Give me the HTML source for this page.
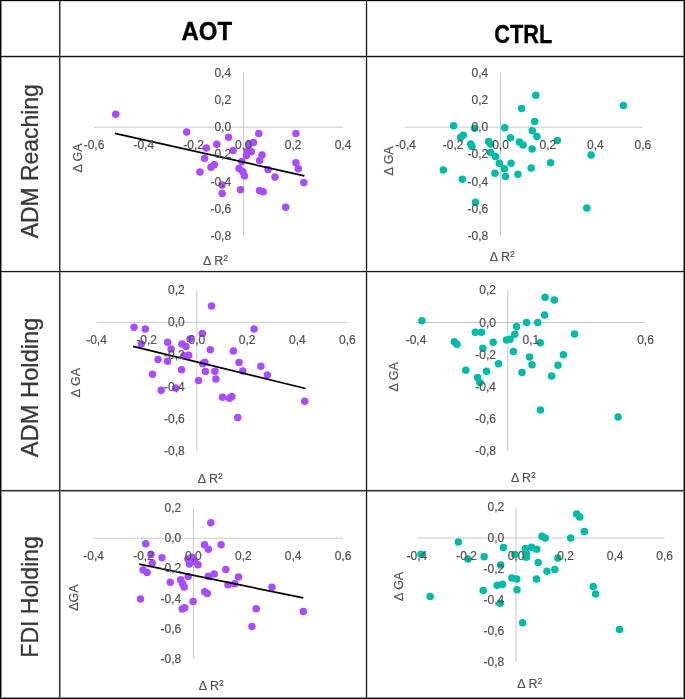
<!DOCTYPE html>
<html><head><meta charset="utf-8"><style>
html,body{margin:0;padding:0;background:#fff;width:685px;height:699px;overflow:hidden}
svg{display:block;will-change:transform}
text{font-family:"Liberation Sans",sans-serif}
.t{font-size:12px;fill:#505050;stroke:#505050;stroke-width:0.2px}
.a{font-size:12.5px;fill:#505050;stroke:#505050;stroke-width:0.15px}
.sup{font-size:8.5px}
.h{font-size:25px;font-weight:bold;fill:#000;stroke:#000;stroke-width:0.35px}
.r{font-size:23.5px;fill:#383838;stroke:#383838;stroke-width:0.3px}
</style></head><body>
<svg width="685" height="699" viewBox="0 0 685 699">
<rect width="685" height="699" fill="#fff"/>
<g shape-rendering="crispEdges">
<rect x="58" y="0" width="1" height="699" fill="#f2f2f2"/>
<rect x="0" y="270" width="685" height="1" fill="#e8e8e8"/>
<rect x="0" y="489" width="685" height="1" fill="#e8e8e8"/>
<rect x="365" y="0" width="1" height="699" fill="#dcdcdc"/>
<rect x="0" y="1" width="685" height="1" fill="#d5d5d5"/>
<rect x="367" y="0" width="1" height="699" fill="#d0d0d0"/>
<rect x="0" y="55" width="685" height="1" fill="#d0d0d0"/>
<rect x="0" y="272" width="685" height="1" fill="#c8c8c8"/>
<rect x="0" y="57" width="685" height="1" fill="#c0c0c0"/>
<rect x="0" y="491" width="685" height="1" fill="#9a9a9a"/>
<rect x="60" y="0" width="1" height="699" fill="#999"/>
<rect x="0" y="697" width="685" height="1" fill="#999"/>
<rect x="1" y="0" width="1" height="699" fill="#909090"/>
<rect x="683" y="0" width="1" height="699" fill="#888"/>
<rect x="59" y="0" width="1" height="699" fill="#333"/>
<rect x="0" y="490" width="685" height="1" fill="#303030"/>
<rect x="0" y="271" width="685" height="1" fill="#1c1c1c"/>
<rect x="0" y="56" width="685" height="1" fill="#181818"/>
<rect x="366" y="0" width="1" height="699" fill="#161616"/>
<rect x="0" y="698" width="685" height="1" fill="#0a0a0a"/>
<rect x="684" y="0" width="1" height="699" fill="#080808"/>
<rect x="0" y="0" width="1" height="699" fill="#000"/>
<rect x="0" y="0" width="685" height="1" fill="#000"/>
</g>
<text transform="translate(206.8,39.8) scale(0.96,1.04)" text-anchor="middle" class="h">AOT</text>
<text transform="translate(523.2,42.7) scale(0.87,1.06)" text-anchor="middle" class="h">CTRL</text>
<text transform="translate(38.1,161.3) rotate(-90) scale(0.975,1)" text-anchor="middle" class="r">ADM Reaching</text>
<text transform="translate(38.1,387.4) rotate(-90) scale(1.01,1)" text-anchor="middle" class="r">ADM Holding</text>
<text transform="translate(38.0,596.9) rotate(-90) scale(0.98,1)" text-anchor="middle" class="r">FDI Holding</text>
<line x1="94.0" y1="127.2" x2="343.0" y2="127.2" stroke="#c8c8c8" stroke-width="1"/>
<line x1="243.4" y1="72.8" x2="243.4" y2="236.0" stroke="#c8c8c8" stroke-width="1"/>
<circle cx="115.7" cy="114.2" r="3.75" fill="#a94bff"/>
<circle cx="186.7" cy="132.1" r="3.75" fill="#a94bff"/>
<circle cx="228.5" cy="137.2" r="3.75" fill="#a94bff"/>
<circle cx="258.8" cy="133.6" r="3.75" fill="#a94bff"/>
<circle cx="216.8" cy="144.3" r="3.75" fill="#a94bff"/>
<circle cx="206.3" cy="148.0" r="3.75" fill="#a94bff"/>
<circle cx="233.1" cy="150.5" r="3.75" fill="#a94bff"/>
<circle cx="253.4" cy="142.4" r="3.75" fill="#a94bff"/>
<circle cx="248.8" cy="144.8" r="3.75" fill="#a94bff"/>
<circle cx="251.2" cy="151.8" r="3.75" fill="#a94bff"/>
<circle cx="247.2" cy="151.5" r="3.75" fill="#a94bff"/>
<circle cx="246.4" cy="155.6" r="3.75" fill="#a94bff"/>
<circle cx="241.9" cy="161.4" r="3.75" fill="#a94bff"/>
<circle cx="239.0" cy="168.5" r="3.75" fill="#a94bff"/>
<circle cx="242.9" cy="171.7" r="3.75" fill="#a94bff"/>
<circle cx="244.4" cy="175.9" r="3.75" fill="#a94bff"/>
<circle cx="204.5" cy="158.2" r="3.75" fill="#a94bff"/>
<circle cx="214.3" cy="164.7" r="3.75" fill="#a94bff"/>
<circle cx="211.0" cy="167.2" r="3.75" fill="#a94bff"/>
<circle cx="200.0" cy="172.0" r="3.75" fill="#a94bff"/>
<circle cx="262.0" cy="155.0" r="3.75" fill="#a94bff"/>
<circle cx="259.6" cy="160.6" r="3.75" fill="#a94bff"/>
<circle cx="268.0" cy="169.5" r="3.75" fill="#a94bff"/>
<circle cx="275.0" cy="176.9" r="3.75" fill="#a94bff"/>
<circle cx="295.9" cy="133.6" r="3.75" fill="#a94bff"/>
<circle cx="295.9" cy="162.8" r="3.75" fill="#a94bff"/>
<circle cx="298.3" cy="168.7" r="3.75" fill="#a94bff"/>
<circle cx="303.8" cy="182.4" r="3.75" fill="#a94bff"/>
<circle cx="285.7" cy="207.2" r="3.75" fill="#a94bff"/>
<circle cx="222.0" cy="184.9" r="3.75" fill="#a94bff"/>
<circle cx="222.2" cy="193.5" r="3.75" fill="#a94bff"/>
<circle cx="240.5" cy="189.8" r="3.75" fill="#a94bff"/>
<circle cx="259.5" cy="190.4" r="3.75" fill="#a94bff"/>
<circle cx="263.2" cy="191.7" r="3.75" fill="#a94bff"/>
<line x1="114.8" y1="133.4" x2="304.4" y2="175.8" stroke="#000" stroke-width="1.7"/>
<text x="94.0" y="148.8" text-anchor="middle" class="t">-0,6</text>
<text x="143.8" y="148.8" text-anchor="middle" class="t">-0,4</text>
<text x="193.6" y="148.8" text-anchor="middle" class="t">-0,2</text>
<text x="243.4" y="148.8" text-anchor="middle" class="t">0,0</text>
<text x="293.2" y="148.8" text-anchor="middle" class="t">0,2</text>
<text x="343.0" y="148.8" text-anchor="middle" class="t">0,4</text>
<text x="231.1" y="76.8" text-anchor="end" class="t">0,4</text>
<text x="231.1" y="104.0" text-anchor="end" class="t">0,2</text>
<text x="231.1" y="131.2" text-anchor="end" class="t">0,0</text>
<text x="231.1" y="158.4" text-anchor="end" class="t">-0,2</text>
<text x="231.1" y="185.6" text-anchor="end" class="t">-0,4</text>
<text x="231.1" y="212.8" text-anchor="end" class="t">-0,6</text>
<text x="231.1" y="240.0" text-anchor="end" class="t">-0,8</text>
<text transform="translate(81.8,158.0) rotate(-90)" text-anchor="middle" class="a">&#916; GA</text>
<text x="215.5" y="264.7" text-anchor="middle" class="a">&#916; R<tspan class="sup" dy="-4">2</tspan></text>
<line x1="405.6" y1="127.2" x2="642.8" y2="127.2" stroke="#c8c8c8" stroke-width="1"/>
<line x1="500.5" y1="72.8" x2="500.5" y2="236.0" stroke="#c8c8c8" stroke-width="1"/>
<circle cx="453.6" cy="125.7" r="3.75" fill="#00bca6"/>
<circle cx="474.6" cy="128.3" r="3.75" fill="#00bca6"/>
<circle cx="463.2" cy="135.3" r="3.75" fill="#00bca6"/>
<circle cx="460.6" cy="137.4" r="3.75" fill="#00bca6"/>
<circle cx="470.7" cy="144.1" r="3.75" fill="#00bca6"/>
<circle cx="472.0" cy="146.4" r="3.75" fill="#00bca6"/>
<circle cx="488.6" cy="141.5" r="3.75" fill="#00bca6"/>
<circle cx="490.7" cy="144.0" r="3.75" fill="#00bca6"/>
<circle cx="490.7" cy="152.6" r="3.75" fill="#00bca6"/>
<circle cx="495.5" cy="156.5" r="3.75" fill="#00bca6"/>
<circle cx="535.8" cy="95.3" r="3.75" fill="#00bca6"/>
<circle cx="521.6" cy="108.5" r="3.75" fill="#00bca6"/>
<circle cx="534.7" cy="121.6" r="3.75" fill="#00bca6"/>
<circle cx="504.8" cy="127.7" r="3.75" fill="#00bca6"/>
<circle cx="532.3" cy="130.7" r="3.75" fill="#00bca6"/>
<circle cx="536.9" cy="136.5" r="3.75" fill="#00bca6"/>
<circle cx="510.4" cy="137.7" r="3.75" fill="#00bca6"/>
<circle cx="519.4" cy="142.0" r="3.75" fill="#00bca6"/>
<circle cx="523.1" cy="145.0" r="3.75" fill="#00bca6"/>
<circle cx="557.3" cy="140.5" r="3.75" fill="#00bca6"/>
<circle cx="532.1" cy="149.0" r="3.75" fill="#00bca6"/>
<circle cx="499.3" cy="163.3" r="3.75" fill="#00bca6"/>
<circle cx="511.0" cy="163.3" r="3.75" fill="#00bca6"/>
<circle cx="504.4" cy="168.8" r="3.75" fill="#00bca6"/>
<circle cx="494.9" cy="173.2" r="3.75" fill="#00bca6"/>
<circle cx="505.5" cy="176.6" r="3.75" fill="#00bca6"/>
<circle cx="517.9" cy="174.2" r="3.75" fill="#00bca6"/>
<circle cx="531.2" cy="168.1" r="3.75" fill="#00bca6"/>
<circle cx="550.5" cy="162.8" r="3.75" fill="#00bca6"/>
<circle cx="443.3" cy="170.0" r="3.75" fill="#00bca6"/>
<circle cx="462.3" cy="179.3" r="3.75" fill="#00bca6"/>
<circle cx="475.5" cy="202.3" r="3.75" fill="#00bca6"/>
<circle cx="623.4" cy="105.4" r="3.75" fill="#00bca6"/>
<circle cx="591.1" cy="155.1" r="3.75" fill="#00bca6"/>
<circle cx="586.8" cy="207.9" r="3.75" fill="#00bca6"/>
<text x="405.6" y="148.8" text-anchor="middle" class="t">-0,4</text>
<text x="453.1" y="148.8" text-anchor="middle" class="t">-0,2</text>
<text x="500.5" y="148.8" text-anchor="middle" class="t">0,0</text>
<text x="547.9" y="148.8" text-anchor="middle" class="t">0,2</text>
<text x="595.4" y="148.8" text-anchor="middle" class="t">0,4</text>
<text x="642.8" y="148.8" text-anchor="middle" class="t">0,6</text>
<text x="488.2" y="76.8" text-anchor="end" class="t">0,4</text>
<text x="488.2" y="104.0" text-anchor="end" class="t">0,2</text>
<text x="488.2" y="131.2" text-anchor="end" class="t">0,0</text>
<text x="488.2" y="158.4" text-anchor="end" class="t">-0,2</text>
<text x="488.2" y="185.6" text-anchor="end" class="t">-0,4</text>
<text x="488.2" y="212.8" text-anchor="end" class="t">-0,6</text>
<text x="488.2" y="240.0" text-anchor="end" class="t">-0,8</text>
<text transform="translate(393.3,160.9) rotate(-90)" text-anchor="middle" class="a">&#916; GA</text>
<text x="502.3" y="260.8" text-anchor="middle" class="a">&#916; R<tspan class="sup" dy="-4">2</tspan></text>
<line x1="96.5" y1="322.3" x2="347.4" y2="322.3" stroke="#c8c8c8" stroke-width="1"/>
<line x1="196.9" y1="290.0" x2="196.9" y2="451.3" stroke="#c8c8c8" stroke-width="1"/>
<circle cx="134" cy="327.3" r="3.75" fill="#a94bff"/>
<circle cx="145.3" cy="329.1" r="3.75" fill="#a94bff"/>
<circle cx="141.3" cy="343.9" r="3.75" fill="#a94bff"/>
<circle cx="167.6" cy="342.2" r="3.75" fill="#a94bff"/>
<circle cx="171.1" cy="348.9" r="3.75" fill="#a94bff"/>
<circle cx="182" cy="343.9" r="3.75" fill="#a94bff"/>
<circle cx="186" cy="346.4" r="3.75" fill="#a94bff"/>
<circle cx="190" cy="338.9" r="3.75" fill="#a94bff"/>
<circle cx="188.7" cy="355.2" r="3.75" fill="#a94bff"/>
<circle cx="183.8" cy="355.7" r="3.75" fill="#a94bff"/>
<circle cx="158" cy="359.5" r="3.75" fill="#a94bff"/>
<circle cx="167.5" cy="361.3" r="3.75" fill="#a94bff"/>
<circle cx="181.5" cy="369.7" r="3.75" fill="#a94bff"/>
<circle cx="152.5" cy="374.2" r="3.75" fill="#a94bff"/>
<circle cx="198.5" cy="380.5" r="3.75" fill="#a94bff"/>
<circle cx="211.5" cy="305.9" r="3.75" fill="#a94bff"/>
<circle cx="254.1" cy="329.1" r="3.75" fill="#a94bff"/>
<circle cx="202.4" cy="333.4" r="3.75" fill="#a94bff"/>
<circle cx="210.3" cy="349.7" r="3.75" fill="#a94bff"/>
<circle cx="233.4" cy="351" r="3.75" fill="#a94bff"/>
<circle cx="204.9" cy="362.3" r="3.75" fill="#a94bff"/>
<circle cx="202.8" cy="363.7" r="3.75" fill="#a94bff"/>
<circle cx="239" cy="362.4" r="3.75" fill="#a94bff"/>
<circle cx="260.9" cy="366.2" r="3.75" fill="#a94bff"/>
<circle cx="205.4" cy="371.6" r="3.75" fill="#a94bff"/>
<circle cx="214.9" cy="371.2" r="3.75" fill="#a94bff"/>
<circle cx="242.8" cy="371.1" r="3.75" fill="#a94bff"/>
<circle cx="267.3" cy="375.1" r="3.75" fill="#a94bff"/>
<circle cx="215.9" cy="379" r="3.75" fill="#a94bff"/>
<circle cx="161.2" cy="390.3" r="3.75" fill="#a94bff"/>
<circle cx="175.7" cy="388" r="3.75" fill="#a94bff"/>
<circle cx="222.5" cy="397.3" r="3.75" fill="#a94bff"/>
<circle cx="229.5" cy="398.2" r="3.75" fill="#a94bff"/>
<circle cx="231.8" cy="396.4" r="3.75" fill="#a94bff"/>
<circle cx="237.7" cy="417.5" r="3.75" fill="#a94bff"/>
<circle cx="304.7" cy="401.2" r="3.75" fill="#a94bff"/>
<line x1="133.1" y1="346.3" x2="305.5" y2="388.5" stroke="#000" stroke-width="1.7"/>
<text x="96.5" y="343.8" text-anchor="middle" class="t">-0,4</text>
<text x="146.7" y="343.8" text-anchor="middle" class="t">-0,2</text>
<text x="196.9" y="343.8" text-anchor="middle" class="t">0,0</text>
<text x="247.1" y="343.8" text-anchor="middle" class="t">0,2</text>
<text x="297.3" y="343.8" text-anchor="middle" class="t">0,4</text>
<text x="347.4" y="343.8" text-anchor="middle" class="t">0,6</text>
<text x="184.8" y="294.0" text-anchor="end" class="t">0,2</text>
<text x="184.8" y="326.3" text-anchor="end" class="t">0,0</text>
<text x="184.8" y="358.6" text-anchor="end" class="t">-0,2</text>
<text x="184.8" y="390.8" text-anchor="end" class="t">-0,4</text>
<text x="184.8" y="423.1" text-anchor="end" class="t">-0,6</text>
<text x="184.8" y="455.3" text-anchor="end" class="t">-0,8</text>
<text transform="translate(80.3,382.6) rotate(-90)" text-anchor="middle" class="a">&#916; GA</text>
<text x="210.3" y="482.6" text-anchor="middle" class="a">&#916; R<tspan class="sup" dy="-4">2</tspan></text>
<line x1="416.0" y1="322.5" x2="645.5" y2="322.5" stroke="#c8c8c8" stroke-width="1"/>
<line x1="507.8" y1="290.4" x2="507.8" y2="451.0" stroke="#c8c8c8" stroke-width="1"/>
<circle cx="421.9" cy="320.8" r="3.75" fill="#00bca6"/>
<circle cx="475.3" cy="332.2" r="3.75" fill="#00bca6"/>
<circle cx="481.5" cy="332.2" r="3.75" fill="#00bca6"/>
<circle cx="454.3" cy="341.7" r="3.75" fill="#00bca6"/>
<circle cx="456.9" cy="344.3" r="3.75" fill="#00bca6"/>
<circle cx="493.2" cy="342.2" r="3.75" fill="#00bca6"/>
<circle cx="482.9" cy="348.3" r="3.75" fill="#00bca6"/>
<circle cx="516.5" cy="326.4" r="3.75" fill="#00bca6"/>
<circle cx="514.8" cy="334.3" r="3.75" fill="#00bca6"/>
<circle cx="506.5" cy="340.1" r="3.75" fill="#00bca6"/>
<circle cx="510" cy="339.2" r="3.75" fill="#00bca6"/>
<circle cx="513.3" cy="351.4" r="3.75" fill="#00bca6"/>
<circle cx="498.5" cy="363.8" r="3.75" fill="#00bca6"/>
<circle cx="465.8" cy="370.2" r="3.75" fill="#00bca6"/>
<circle cx="486.5" cy="371.2" r="3.75" fill="#00bca6"/>
<circle cx="477.5" cy="377.5" r="3.75" fill="#00bca6"/>
<circle cx="479.9" cy="382.4" r="3.75" fill="#00bca6"/>
<circle cx="545.1" cy="297.2" r="3.75" fill="#00bca6"/>
<circle cx="554.3" cy="300" r="3.75" fill="#00bca6"/>
<circle cx="544.6" cy="315.1" r="3.75" fill="#00bca6"/>
<circle cx="526.6" cy="322.4" r="3.75" fill="#00bca6"/>
<circle cx="537.7" cy="322.4" r="3.75" fill="#00bca6"/>
<circle cx="574.5" cy="334" r="3.75" fill="#00bca6"/>
<circle cx="540.3" cy="342.7" r="3.75" fill="#00bca6"/>
<circle cx="529.5" cy="357" r="3.75" fill="#00bca6"/>
<circle cx="563.4" cy="354.8" r="3.75" fill="#00bca6"/>
<circle cx="532" cy="364.8" r="3.75" fill="#00bca6"/>
<circle cx="558" cy="365.2" r="3.75" fill="#00bca6"/>
<circle cx="522" cy="372.4" r="3.75" fill="#00bca6"/>
<circle cx="551.7" cy="376.1" r="3.75" fill="#00bca6"/>
<circle cx="540.4" cy="410" r="3.75" fill="#00bca6"/>
<circle cx="618.1" cy="417.1" r="3.75" fill="#00bca6"/>
<text x="416.0" y="343.9" text-anchor="middle" class="t">-0,4</text>
<text x="530.8" y="343.9" text-anchor="middle" class="t">0,1</text>
<text x="645.5" y="343.9" text-anchor="middle" class="t">0,6</text>
<text x="496.0" y="294.4" text-anchor="end" class="t">0,2</text>
<text x="496.0" y="326.5" text-anchor="end" class="t">0,0</text>
<text x="496.0" y="358.6" text-anchor="end" class="t">-0,2</text>
<text x="496.0" y="390.7" text-anchor="end" class="t">-0,4</text>
<text x="496.0" y="422.9" text-anchor="end" class="t">-0,6</text>
<text x="496.0" y="455.0" text-anchor="end" class="t">-0,8</text>
<text transform="translate(398.0,376.8) rotate(-90)" text-anchor="middle" class="a">&#916; GA</text>
<text x="523.4" y="482.2" text-anchor="middle" class="a">&#916; R<tspan class="sup" dy="-4">2</tspan></text>
<line x1="93.7" y1="538.2" x2="343.0" y2="538.2" stroke="#c8c8c8" stroke-width="1"/>
<line x1="193.4" y1="508.1" x2="193.4" y2="658.8" stroke="#c8c8c8" stroke-width="1"/>
<circle cx="145.7" cy="543.7" r="3.75" fill="#a94bff"/>
<circle cx="151" cy="554.6" r="3.75" fill="#a94bff"/>
<circle cx="162" cy="557.7" r="3.75" fill="#a94bff"/>
<circle cx="152.2" cy="563.3" r="3.75" fill="#a94bff"/>
<circle cx="143.1" cy="570" r="3.75" fill="#a94bff"/>
<circle cx="147.1" cy="572.6" r="3.75" fill="#a94bff"/>
<circle cx="170.3" cy="582.2" r="3.75" fill="#a94bff"/>
<circle cx="180.7" cy="579.8" r="3.75" fill="#a94bff"/>
<circle cx="182.5" cy="583.5" r="3.75" fill="#a94bff"/>
<circle cx="184.2" cy="587" r="3.75" fill="#a94bff"/>
<circle cx="188.2" cy="576.5" r="3.75" fill="#a94bff"/>
<circle cx="187.9" cy="558.9" r="3.75" fill="#a94bff"/>
<circle cx="189.4" cy="564" r="3.75" fill="#a94bff"/>
<circle cx="192" cy="557.2" r="3.75" fill="#a94bff"/>
<circle cx="198" cy="564.8" r="3.75" fill="#a94bff"/>
<circle cx="210.8" cy="522.8" r="3.75" fill="#a94bff"/>
<circle cx="204.5" cy="544.7" r="3.75" fill="#a94bff"/>
<circle cx="208.4" cy="549.2" r="3.75" fill="#a94bff"/>
<circle cx="221.1" cy="544.8" r="3.75" fill="#a94bff"/>
<circle cx="194.7" cy="561.5" r="3.75" fill="#a94bff"/>
<circle cx="208.4" cy="576.3" r="3.75" fill="#a94bff"/>
<circle cx="214.2" cy="573.9" r="3.75" fill="#a94bff"/>
<circle cx="225.8" cy="569.6" r="3.75" fill="#a94bff"/>
<circle cx="238.5" cy="577" r="3.75" fill="#a94bff"/>
<circle cx="228" cy="584.8" r="3.75" fill="#a94bff"/>
<circle cx="234.6" cy="583.8" r="3.75" fill="#a94bff"/>
<circle cx="204.7" cy="591.8" r="3.75" fill="#a94bff"/>
<circle cx="207.3" cy="593.5" r="3.75" fill="#a94bff"/>
<circle cx="193.1" cy="601.4" r="3.75" fill="#a94bff"/>
<circle cx="140.5" cy="598.9" r="3.75" fill="#a94bff"/>
<circle cx="182.2" cy="608.9" r="3.75" fill="#a94bff"/>
<circle cx="184.7" cy="607.7" r="3.75" fill="#a94bff"/>
<circle cx="272" cy="587.3" r="3.75" fill="#a94bff"/>
<circle cx="256.2" cy="608.7" r="3.75" fill="#a94bff"/>
<circle cx="303.3" cy="611.6" r="3.75" fill="#a94bff"/>
<circle cx="252" cy="626.5" r="3.75" fill="#a94bff"/>
<line x1="139.2" y1="564.2" x2="303.3" y2="597.9" stroke="#000" stroke-width="1.7"/>
<text x="93.7" y="559.5" text-anchor="middle" class="t">-0,4</text>
<text x="143.5" y="559.5" text-anchor="middle" class="t">-0,2</text>
<text x="193.4" y="559.5" text-anchor="middle" class="t">0,0</text>
<text x="243.3" y="559.5" text-anchor="middle" class="t">0,2</text>
<text x="293.1" y="559.5" text-anchor="middle" class="t">0,4</text>
<text x="343.0" y="559.5" text-anchor="middle" class="t">0,6</text>
<text x="181.3" y="512.1" text-anchor="end" class="t">0,2</text>
<text x="181.3" y="542.2" text-anchor="end" class="t">0,0</text>
<text x="181.3" y="572.3" text-anchor="end" class="t">-0,2</text>
<text x="181.3" y="602.5" text-anchor="end" class="t">-0,4</text>
<text x="181.3" y="632.6" text-anchor="end" class="t">-0,6</text>
<text x="181.3" y="662.8" text-anchor="end" class="t">-0,8</text>
<text transform="translate(77.5,597.6) rotate(-90)" text-anchor="middle" class="a">&#916;GA</text>
<text x="211.3" y="690.4" text-anchor="middle" class="a">&#916; R<tspan class="sup" dy="-4">2</tspan></text>
<line x1="416.9" y1="538.0" x2="664.6" y2="538.0" stroke="#c8c8c8" stroke-width="1"/>
<line x1="516.0" y1="507.1" x2="516.0" y2="661.7" stroke="#c8c8c8" stroke-width="1"/>
<circle cx="421" cy="554.2" r="3.75" fill="#00bca6"/>
<circle cx="458.3" cy="542" r="3.75" fill="#00bca6"/>
<circle cx="468" cy="558.9" r="3.75" fill="#00bca6"/>
<circle cx="484.1" cy="556.7" r="3.75" fill="#00bca6"/>
<circle cx="503.4" cy="547.6" r="3.75" fill="#00bca6"/>
<circle cx="500.7" cy="565.1" r="3.75" fill="#00bca6"/>
<circle cx="514.8" cy="554.6" r="3.75" fill="#00bca6"/>
<circle cx="511.8" cy="577.9" r="3.75" fill="#00bca6"/>
<circle cx="516.7" cy="578.9" r="3.75" fill="#00bca6"/>
<circle cx="497.2" cy="585.2" r="3.75" fill="#00bca6"/>
<circle cx="502.5" cy="584.2" r="3.75" fill="#00bca6"/>
<circle cx="483.2" cy="590.6" r="3.75" fill="#00bca6"/>
<circle cx="517" cy="589.7" r="3.75" fill="#00bca6"/>
<circle cx="576.7" cy="513.9" r="3.75" fill="#00bca6"/>
<circle cx="579.7" cy="516.9" r="3.75" fill="#00bca6"/>
<circle cx="584.3" cy="531.4" r="3.75" fill="#00bca6"/>
<circle cx="542" cy="536.2" r="3.75" fill="#00bca6"/>
<circle cx="545.2" cy="537.9" r="3.75" fill="#00bca6"/>
<circle cx="570.7" cy="537.9" r="3.75" fill="#00bca6"/>
<circle cx="525.4" cy="548.4" r="3.75" fill="#00bca6"/>
<circle cx="531.5" cy="547.2" r="3.75" fill="#00bca6"/>
<circle cx="536.8" cy="549.3" r="3.75" fill="#00bca6"/>
<circle cx="526.3" cy="553.2" r="3.75" fill="#00bca6"/>
<circle cx="526.3" cy="557.2" r="3.75" fill="#00bca6"/>
<circle cx="538.2" cy="562.4" r="3.75" fill="#00bca6"/>
<circle cx="557.8" cy="558.1" r="3.75" fill="#00bca6"/>
<circle cx="547" cy="571.2" r="3.75" fill="#00bca6"/>
<circle cx="554.8" cy="569.5" r="3.75" fill="#00bca6"/>
<circle cx="536.4" cy="579.1" r="3.75" fill="#00bca6"/>
<circle cx="593.2" cy="586.6" r="3.75" fill="#00bca6"/>
<circle cx="595.6" cy="594" r="3.75" fill="#00bca6"/>
<circle cx="430.2" cy="596.6" r="3.75" fill="#00bca6"/>
<circle cx="500.1" cy="603.3" r="3.75" fill="#00bca6"/>
<circle cx="522.6" cy="622.7" r="3.75" fill="#00bca6"/>
<circle cx="619.5" cy="629.4" r="3.75" fill="#00bca6"/>
<text x="416.9" y="559.5" text-anchor="middle" class="t">-0,4</text>
<text x="466.5" y="559.5" text-anchor="middle" class="t">-0,2</text>
<text x="516.0" y="559.5" text-anchor="middle" class="t">0,0</text>
<text x="565.5" y="559.5" text-anchor="middle" class="t">0,2</text>
<text x="615.1" y="559.5" text-anchor="middle" class="t">0,4</text>
<text x="664.6" y="559.5" text-anchor="middle" class="t">0,6</text>
<text x="504.2" y="511.1" text-anchor="end" class="t">0,2</text>
<text x="504.2" y="542.0" text-anchor="end" class="t">0,0</text>
<text x="504.2" y="572.9" text-anchor="end" class="t">-0,2</text>
<text x="504.2" y="603.8" text-anchor="end" class="t">-0,4</text>
<text x="504.2" y="634.8" text-anchor="end" class="t">-0,6</text>
<text x="504.2" y="665.7" text-anchor="end" class="t">-0,8</text>
<text transform="translate(403.1,586.4) rotate(-90)" text-anchor="middle" class="a">&#916; GA</text>
<text x="529.8" y="687.5" text-anchor="middle" class="a">&#916; R<tspan class="sup" dy="-4">2</tspan></text>
</svg>
</body></html>
